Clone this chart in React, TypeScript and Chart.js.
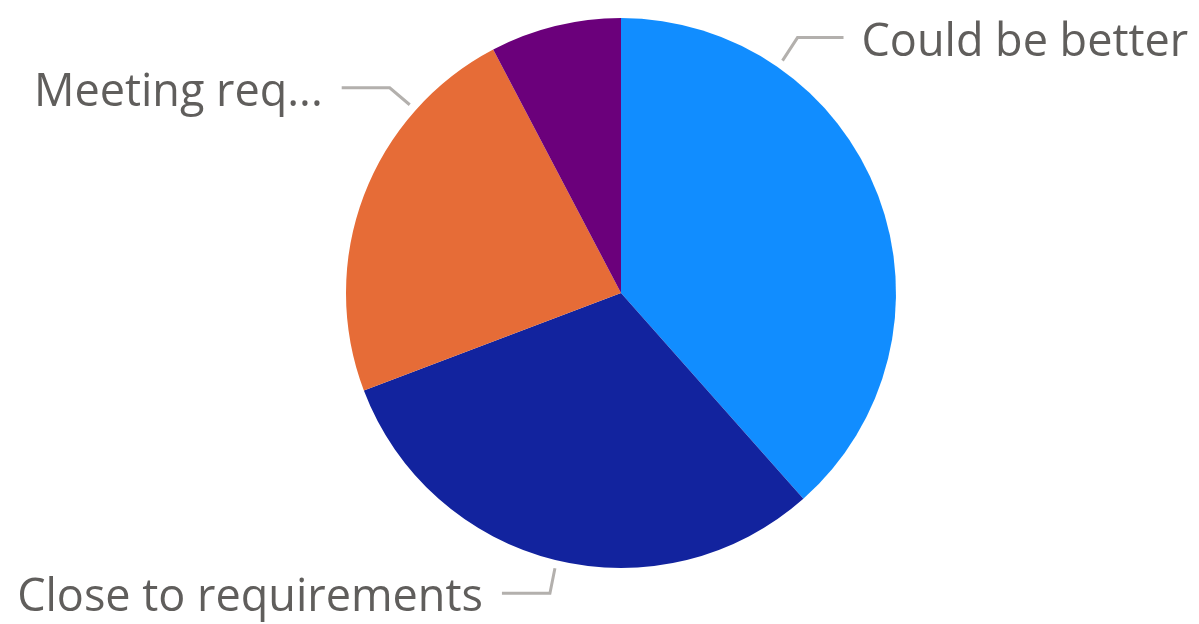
import React, { useEffect, useRef } from "react";
import { Chart, registerables } from "chart.js";

Chart.register(...registerables);

const categories = ["Could be better", "Close to requirements", "Meeting requirements", "Exceeding requirements"];
const values = [5, 4, 3, 1];
const colors = ["#118DFF", "#12239E", "#E66C37", "#6B007B"];
const labelTexts = ["Could be better", "Close to requirements", "Meeting req...", ""];

// leader-line styling per slice: anchor angle (deg from 12 o'clock), elbow offset, horizontal run
const leaderAngles = [34.8, 193.5, 311.7, 0];
const elbowOffsets: [number, number][] = [[15, -23], [-5, 25], [-20, -17], [0, 0]];
const runLengths = [46, -48, -48, 0];

const FONT = "'Open Sans', 'Noto Sans', sans-serif";

const labelPlugin = {
  id: "leaderLabels",
  afterDraw(chart: any) {
    const ctx = chart.ctx as CanvasRenderingContext2D;
    const meta = chart.getDatasetMeta(0);
    const arc = meta.data[0] as any;
    if (!arc) return;
    const cx = arc.x, cy = arc.y, r = arc.outerRadius;
    ctx.save();
    labelTexts.forEach((t, i) => {
      if (!t) return;
      const a = (leaderAngles[i] * Math.PI) / 180;
      const sx = cx + (r + 8) * Math.sin(a);
      const sy = cy - (r + 8) * Math.cos(a);
      const ex = sx + elbowOffsets[i][0];
      const ey = sy + elbowOffsets[i][1];
      const hx = ex + runLengths[i];
      ctx.strokeStyle = "#B3B0AD";
      ctx.lineWidth = 3;
      ctx.lineJoin = "miter";
      ctx.beginPath();
      ctx.moveTo(sx, sy);
      ctx.lineTo(ex, ey);
      ctx.lineTo(hx, ey);
      ctx.stroke();
      ctx.fillStyle = "#605E5C";
      ctx.font = `45px ${FONT}`;
      ctx.textBaseline = "alphabetic";
      const right = runLengths[i] > 0;
      ctx.textAlign = right ? "left" : "right";
      ctx.fillText(t, right ? hx + 18 : hx - 19, ey + 18);
    });
    ctx.restore();
  },
};

export default function App() {
  const ref = useRef<HTMLCanvasElement | null>(null);
  useEffect(() => {
    document.body.style.margin = "0";
    const canvas = ref.current!;
    const chart = new Chart(canvas, {
      type: "pie",
      data: {
        labels: categories,
        datasets: [
          {
            data: values,
            backgroundColor: colors,
            borderWidth: 0,
          },
        ],
      },
      options: {
        animation: false,
        responsive: false,
        maintainAspectRatio: false,
        layout: { padding: { left: 346, right: 303, top: 18, bottom: 56 } },
        plugins: { legend: { display: false }, tooltip: { enabled: false } },
      },
      plugins: [labelPlugin],
    });
    return () => chart.destroy();
  }, []);
  return (
    <div style={{ width: 1199, height: 624 }}>
      <canvas ref={ref} width={1199} height={624} style={{ display: "block" }} />
    </div>
  );
}
